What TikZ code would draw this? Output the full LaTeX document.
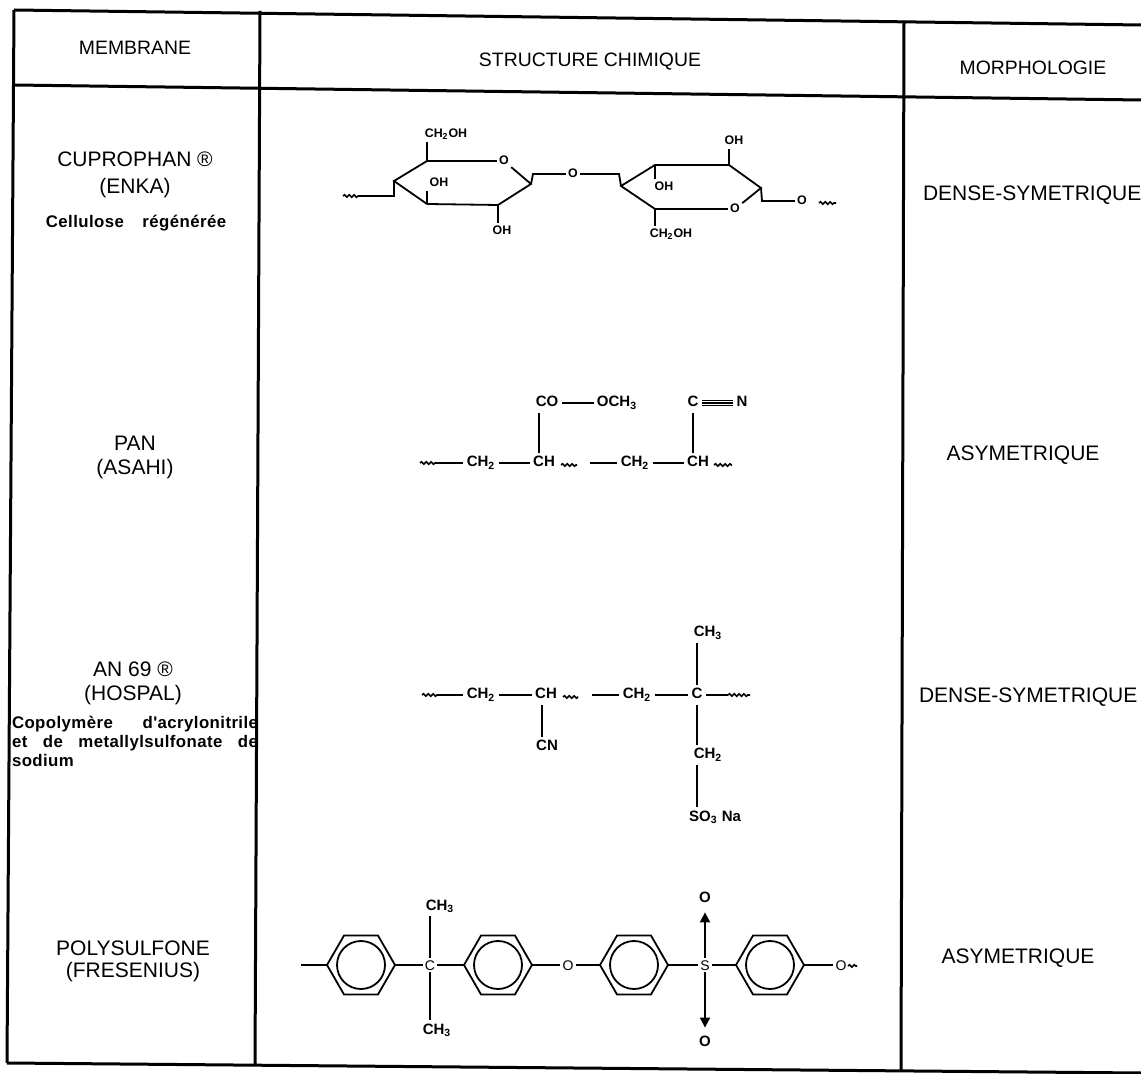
\documentclass[tikz,border=0pt]{standalone}
\usepackage{fontspec}
\setmainfont{Liberation Sans}
\newfontfamily\notefont[LetterSpace=2.5]{Liberation Sans}
\usepackage{tikz}
\usetikzlibrary{arrows.meta,decorations.pathmorphing}

\begin{document}
\begin{tikzpicture}[x=0.5pt,y=-0.5pt,
    rule/.style={line width=1.5pt},
    bond/.style={line width=0.9pt},
    wavy/.style={line width=0.8pt,decorate,decoration={snake,amplitude=0.6pt,segment length=2.4pt}},
    head/.style={font=\fontsize{9.7}{11}\selectfont},
    membrane/.style={font=\fontsize{10.5}{12}\selectfont},
    note/.style={font=\notefont\bfseries\fontsize{8.4}{9.5}\selectfont},
    morph/.style={font=\fontsize{10.5}{12}\selectfont},
    atom/.style={font=\bfseries\fontsize{7.5}{9}\selectfont,inner sep=1.5pt,text height=5.5pt,text depth=1.5pt},
    small atom/.style={font=\bfseries\fontsize{6.2}{7}\selectfont,inner sep=1pt,text height=4.4pt,text depth=1pt},
    ring atom/.style={font=\fontsize{7}{8}\selectfont,inner sep=1pt,text height=5pt,text depth=0pt},
    benzene/.pic={
      \draw[bond] (0:34) -- (60:34) -- (120:34) -- (180:34) -- (240:34) -- (300:34) -- cycle;
      \draw[bond] (0,0) circle [radius=24];
      \coordinate (-w) at (180:34);
      \coordinate (-e) at (0:34);
    }
  ]
  \useasboundingbox (0,0) rectangle (1141,1074);

  % table frame
  \draw[rule] (14,10) -- (1141,25);
  \draw[rule] (14,85) -- (1141,100);
  \draw[rule] (7,1063) -- (1141,1073);
  \draw[rule] (14,10) -- (7,1063);
  \draw[rule] (260,11) -- (255,1066);
  \draw[rule] (904,21) -- (901,1071);

  % header
  \node[head] (hmem) at (135,48) {MEMBRANE};
  \node[head] (hstr) at (590,62) {STRUCTURE CHIMIQUE};
  \node[head] (hmor) at (1033,68) {MORPHOLOGIE};

  % membranes
  \node[membrane] (cup) at (135,159) {CUPROPHAN \textregistered};
  \node[membrane] (enka) at (135,188) {(ENKA)};
  \node[note] (cell) at (136,223) {Cellulose\hspace{0.8em} régénérée};
  \node[membrane] (pan) at (135,443) {PAN};
  \node[membrane] (asahi) at (135,469) {(ASAHI)};
  \node[membrane] (an) at (133,669) {AN 69 \textregistered};
  \node[membrane] (hosp) at (133,695) {(HOSPAL)};
  \node[note,text width=123pt,align=justify,inner sep=0pt] (copo) at (135,741)
    {Copolymère d'acrylonitrile\linebreak et de metallylsulfonate de\linebreak sodium};
  \node[membrane] (psf) at (133,948) {POLYSULFONE};
  \node[membrane] (fres) at (133,972) {(FRESENIUS)};

  % morphologie
  \node[morph,anchor=west] (m1) at (916,195) {DENSE-SYMETRIQUE};
  \node[morph] (m2) at (1023,455) {ASYMETRIQUE};
  \node[morph,anchor=west] (m3) at (912,697) {DENSE-SYMETRIQUE};
  \node[morph] (m4) at (1018,958) {ASYMETRIQUE};

  % cellulose, first ring
  \coordinate (a0) at (394,196);
  \coordinate (a1) at (394,181);
  \coordinate (a2) at (427,161);
  \coordinate (a3) at (531,184);
  \coordinate (a4) at (498,205);
  \coordinate (a5) at (427,204);
  \node[small atom] (o1) at (504,161) {O};
  \draw[bond] (a5) -- (a1) -- (a2) -- (o1) -- (a3) -- (a4) -- (a5);
  \coordinate (w1) at (343,196);
  \coordinate (w2) at (358,196);
  \draw[wavy] (w1) -- (w2);
  \draw[bond] (w2) -- (a0) -- (a1);
  \node[small atom] (s1) at (446,134) {CH\textsubscript{2}OH};
  \draw[bond] (a2) -- (a2 |- s1.south);
  \node[small atom] (s2) at (439,183) {OH};
  \draw[bond] (a5) -- (a5 |- s2.south);
  \node[small atom] (s3) at (502,231) {OH};
  \draw[bond] (a4) -- (a4 |- s3.north);
  % glycosidic link
  \coordinate (a6) at (533,174);
  \node[small atom] (o2) at (573,174) {O};
  \coordinate (b0) at (619,174);
  \coordinate (b1) at (621,186);
  \draw[bond] (a3) -- (a6) -- (o2) -- (b0) -- (b1);
  % cellulose, second ring
  \coordinate (b2) at (655,165);
  \coordinate (b3) at (729,165);
  \coordinate (b4) at (761,188);
  \coordinate (b5) at (655,209);
  \node[small atom] (o3) at (735,209) {O};
  \draw[bond] (b5) -- (b1) -- (b2) -- (b3) -- (b4) -- (o3) -- (b5);
  \node[small atom] (s4) at (734,141) {OH};
  \draw[bond] (b3) -- (b3 |- s4.south);
  \node[small atom] (s5) at (664,187) {OH};
  \draw[bond] (b2) -- (b2 |- s5.north);
  \node[small atom] (s6) at (671,234) {CH\textsubscript{2}OH};
  \draw[bond] (b5) -- (b5 |- s6.north);
  \coordinate (b6) at (762,201);
  \node[small atom] (o4) at (802,201) {O};
  \draw[bond] (b4) -- (b6) -- (o4);
  \coordinate (w3) at (819,203);
  \coordinate (w4) at (836,203);
  \draw[wavy] (w3) -- (w4);

  % PAN
  \node[atom] (p1) at (481,463) {CH\textsubscript{2}};
  \node[atom] (p2) at (544,463) {CH};
  \node[atom] (p3) at (635,463) {CH\textsubscript{2}};
  \node[atom] (p4) at (698,463) {CH};
  \node[atom] (p5) at (547,403) {CO};
  \node[atom] (p6) at (617,403) {OCH\textsubscript{3}};
  \node[atom] (p7) at (693,403) {C};
  \node[atom] (p8) at (742,403) {N};
  \coordinate (q1) at (420,463);
  \coordinate (q2) at (437,463);
  \coordinate (q3) at (561,465);
  \coordinate (q4) at (577,465);
  \coordinate (q5) at (590,463);
  \coordinate (q6) at (714,465);
  \coordinate (q7) at (732,465);
  \draw[wavy] (q1) -- (q2);
  \draw[bond] (q2) -- (p1) -- (p2);
  \draw[wavy] (q3) -- (q4);
  \draw[bond] (q5) -- (p3) -- (p4);
  \draw[wavy] (q6) -- (q7);
  \draw[bond] ([xshift=-2.5pt]p2.north) -- ([xshift=-2.5pt]p2.north |- p5.south);
  \draw[bond] (p5) -- (p6);
  \draw[bond] (p7) -- (p7 |- p4.north);
  \draw[line width=0.6pt] (p7) -- (p8);
  \draw[line width=0.6pt] ([yshift=1.2pt]p7.east) -- ([yshift=1.2pt]p8.west);
  \draw[line width=0.6pt] ([yshift=-1.2pt]p7.east) -- ([yshift=-1.2pt]p8.west);

  % AN 69
  \node[atom] (n1) at (481,695) {CH\textsubscript{2}};
  \node[atom] (n2) at (546,695) {CH};
  \node[atom] (n3) at (637,695) {CH\textsubscript{2}};
  \node[atom] (n4) at (697,695) {C};
  \node[atom] (n5) at (547,747) {CN};
  \node[atom] (n6) at (708,633) {CH\textsubscript{3}};
  \node[atom] (n7) at (708,755) {CH\textsubscript{2}};
  \node[atom] (n8) at (715,817) {SO\textsubscript{3} Na};
  \coordinate (v1) at (422,695);
  \coordinate (v2) at (437,695);
  \coordinate (v3) at (563,697);
  \coordinate (v4) at (578,697);
  \coordinate (v5) at (592,695);
  \coordinate (v6) at (728,695);
  \coordinate (v7) at (750,695);
  \draw[wavy] (v1) -- (v2);
  \draw[bond] (v2) -- (n1) -- (n2);
  \draw[wavy] (v3) -- (v4);
  \draw[bond] (v5) -- (n3) -- (n4) -- (v6);
  \draw[wavy] (v6) -- (v7);
  \draw[bond] ([xshift=-2pt]n2.south) -- ([xshift=-2pt]n2.south |- n5.north);
  \draw[bond] (n4) -- (n4 |- n6.south);
  \draw[bond] (n4) -- (n4 |- n7.north);
  \draw[bond] (n4 |- n7.south) -- (n4 |- n8.north);

  % polysulfone
  \coordinate (y0) at (301,965);
  \pic (r1) at (361,965) {benzene};
  \node[ring atom] (yc) at (430,965) {C};
  \pic (r2) at (498,965) {benzene};
  \node[ring atom] (yo) at (568,965) {O};
  \pic (r3) at (634,965) {benzene};
  \node[ring atom] (ys) at (705,965) {S};
  \pic (r4) at (770,965) {benzene};
  \node[ring atom] (yo2) at (841,965) {O};
  \node[atom] (ym1) at (440,906) {CH\textsubscript{3}};
  \node[atom] (ym2) at (437,1030) {CH\textsubscript{3}};
  \node[atom] (yso1) at (705,898) {O};
  \node[atom] (yso2) at (705,1042) {O};
  \draw[bond] (y0) -- (r1-w);
  \draw[bond] (r1-e) -- (yc) -- (r2-w);
  \draw[bond] (r2-e) -- (yo) -- (r3-w);
  \draw[bond] (r3-e) -- (ys) -- (r4-w);
  \draw[bond] (r4-e) -- (yo2);
  \draw[bond] (yc) -- (yc |- ym1.south);
  \draw[bond] (yc) -- (yc |- ym2.north);
  \draw[bond,-{Triangle[width=5pt,length=5pt]},shorten >=2pt] (ys) -- (yso1);
  \draw[bond,-{Triangle[width=5pt,length=5pt]},shorten >=2pt] (ys) -- (yso2);
  \coordinate (y9) at (848,966);
  \coordinate (y10) at (857,966);
  \draw[wavy] (y9) -- (y10);
\end{tikzpicture}
\end{document}
